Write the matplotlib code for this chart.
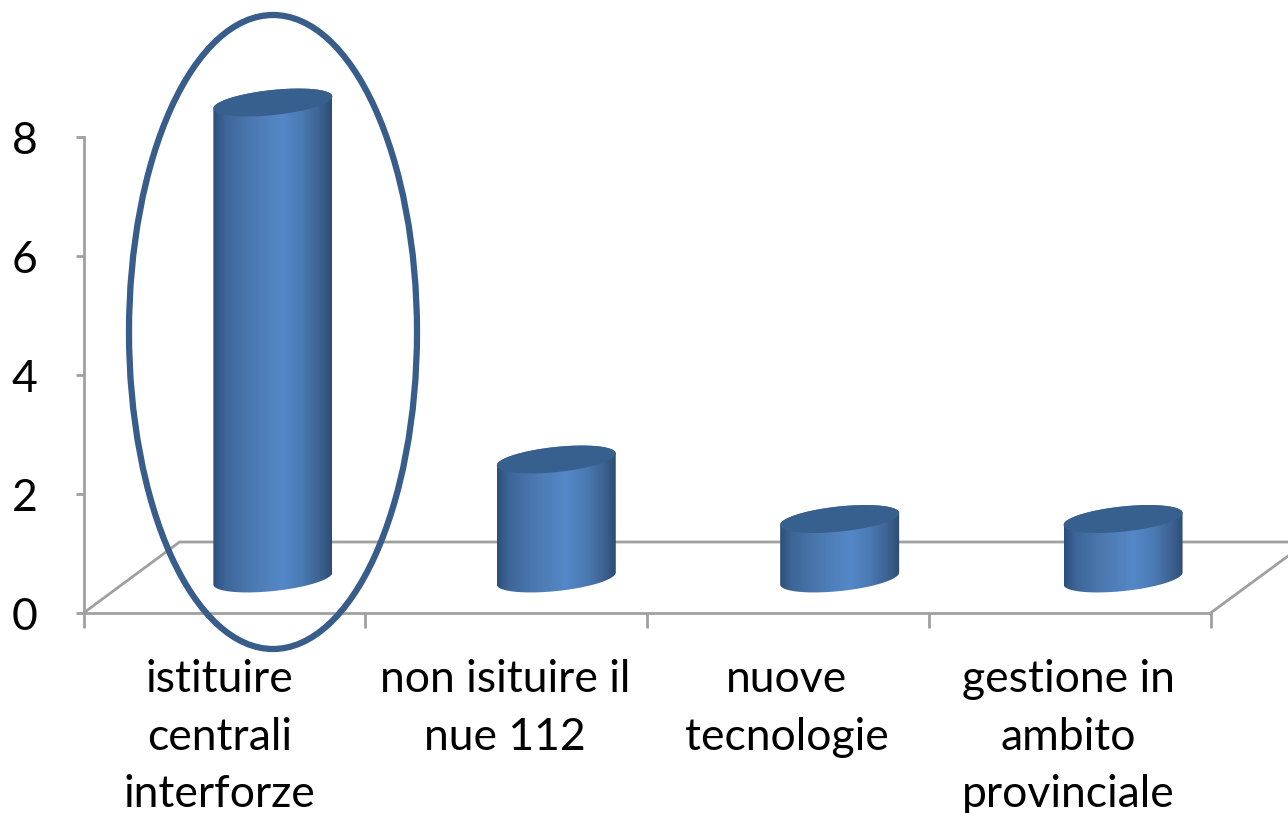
import numpy as np
import matplotlib
matplotlib.use("Agg")
import matplotlib.pyplot as plt
from matplotlib.colors import LinearSegmentedColormap
from matplotlib.patches import Ellipse, PathPatch
from matplotlib.path import Path
from matplotlib.transforms import ScaledTranslation

categories = ["istituire\ncentrali\ninterforze", "non isituire il\nnue 112",
              "nuove\ntecnologie", "gestione in\nambito\nprovinciale"]
values = [8, 2, 1, 1]
y_ticks = [0, 2, 4, 6, 8]

W, H = 1288, 813
PX_X = 281.75       # pixels per category
PX_Y = 59.5         # pixels per value unit
X0, Y0 = 83.5, 613  # pixel position of the data origin

plt.rcParams['font.family'] = ['Lato', 'DejaVu Sans']
fig = plt.figure(figsize=(W / 100, H / 100), dpi=100, facecolor='white')
ax = fig.add_axes([0, 0, 1, 1])
ax.set_xlim(-X0 / PX_X, (W - X0) / PX_X)
ax.set_ylim(-(H - Y0) / PX_Y, Y0 / PX_Y)

GREY = '#a0a0a0'
LW = 2.0
for s in ('top', 'right'):
    ax.spines[s].set_visible(False)
for s in ('left', 'bottom'):
    ax.spines[s].set_color(GREY)
    ax.spines[s].set_linewidth(LW)
    ax.spines[s].set_position(('data', 0))
ax.spines['left'].set_bounds(0, max(y_ticks))
ax.spines['bottom'].set_bounds(0, len(categories))

ax.set_yticks(y_ticks)
ax.set_xticks(range(len(categories) + 1))
ax.set_xticklabels([])
ax.tick_params(axis='both', which='major', color=GREY, width=LW, length=10.5)
ax.tick_params(axis='y', length=6, labelsize=32, labelcolor='black', pad=27)
ax.set_xticks([i + 0.5 for i in range(len(categories))], minor=True)
ax.set_xticklabels(categories, minor=True, fontsize=32, linespacing=1.51,
                   verticalalignment='top')
ax.tick_params(axis='x', which='minor', length=0, pad=33)
ax.xaxis.set_tick_params(which='minor', labelcolor='black')
label_shift_px = [-5, -1, -1, -1]
for lab, sh in zip(ax.xaxis.get_minorticklabels(), label_shift_px):
    lab.set_transform(lab.get_transform() + ScaledTranslation(sh / 100, 0, fig.dpi_scale_trans))

# 3-D floor drawn behind the columns
dx_back, dy_back = 96 / PX_X, 71 / PX_Y
n = len(categories)
xlim_r = ax.get_xlim()[1]
ax.plot([0, dx_back, xlim_r], [0, dy_back, dy_back], color=GREY, lw=LW, zorder=1)
ax.plot([n, xlim_r], [0, dy_back * 77 / 96], color=GREY, lw=LW, zorder=1)

# cylinder geometry
off_x = 48.5 / PX_X
step = 283.4 / PX_X
base_y = 34.5 / PX_Y
a = 59.5 / PX_X
b = 12.6 / PX_Y
sh_y = 6.0 / PX_Y
t = np.linspace(0, 2 * np.pi, 181)

cmap = LinearSegmentedColormap.from_list('cyl', [
    (0.0, '#2c4f7c'), (0.1, '#3d6698'), (0.3, '#4a77ae'), (0.58, '#5588c8'),
    (0.75, '#4a7ab3'), (0.9, '#3d6290'), (1.0, '#2d4c74')])
grad = np.linspace(0, 1, 256)[None, :]

for i, v in enumerate(values):
    cx = 0.5 + off_x + i * step
    top_y = v + base_y
    tb = np.linspace(np.pi, 2 * np.pi, 91)
    xb = cx + a * np.cos(tb)
    yb = base_y + b * np.sin(tb) + sh_y * np.cos(tb)
    tt = np.linspace(0, np.pi, 91)
    xt = cx + a * np.cos(tt)
    yt = top_y + b * np.sin(tt) + sh_y * np.cos(tt)
    verts = np.vstack([np.column_stack([xb, yb]), np.column_stack([xt, yt]), [[xb[0], yb[0]]]])
    clip = PathPatch(Path(verts), transform=ax.transData, facecolor='none', edgecolor='none')
    ax.add_patch(clip)
    im = ax.imshow(grad, cmap=cmap, aspect='auto', zorder=3, interpolation='bilinear',
                   extent=[cx - a, cx + a, base_y - 1, top_y + 1])
    im.set_clip_path(clip)
    ax.fill(cx + a * np.cos(t), top_y + b * np.sin(t) + sh_y * np.cos(t),
            color='#37608f', lw=0, zorder=4)

# restore limits changed by imshow
ax.set_xlim(-X0 / PX_X, (W - X0) / PX_X)
ax.set_ylim(-(H - Y0) / PX_Y, Y0 / PX_Y)

# highlighting ellipse round the first column
ax.add_patch(Ellipse(((273 - X0) / PX_X, (Y0 - 332) / PX_Y), 288 / PX_X, 634 / PX_Y,
                     fill=False, edgecolor='#385d8a', lw=4.5, zorder=5))

fig.savefig('out.png', dpi=100, facecolor='white')
